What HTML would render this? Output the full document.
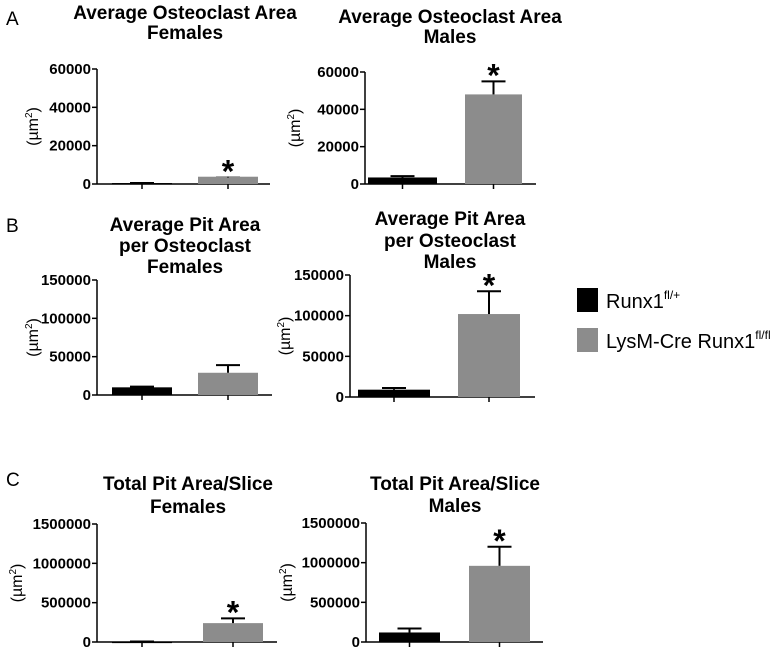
<!DOCTYPE html>
<html><head><meta charset="utf-8"><style>
body{margin:0;background:#fff;width:777px;height:650px;overflow:hidden}
svg text{font-family:"Liberation Sans",Arial,sans-serif}
</style></head><body>
<svg id="fig" width="777" height="650" xmlns="http://www.w3.org/2000/svg">
<text x="6" y="25" font-size="19">A</text>
<text x="6" y="232" font-size="19">B</text>
<text x="6" y="486" font-size="19">C</text>
<g>
<rect x="577" y="288" width="21" height="24" fill="#000"/>
<text x="606" y="308" font-size="20">Runx1<tspan font-size="12" dy="-9">fl/+</tspan></text>
<rect x="577" y="328" width="21" height="24" fill="#8c8c8c"/>
<text x="606" y="348" font-size="20">LysM-Cre Runx1<tspan font-size="12" dy="-9">fl/fl</tspan></text>
</g>
</svg>
<script>
const panelNames=["osteoclast-area-females","osteoclast-area-males","pit-area-females","pit-area-males","total-pit-females","total-pit-males"];
const groups=["Runx1 fl/+","LysM-Cre Runx1 fl/fl"];
const controlValues=[500,3500,10000,9000,5000,120000];
const controlErrors=[500,4200,11000,11000,6000,170000];
const ckoValues=[3800,48000,29000,102000,240000,960000];
const ckoErrors=[3400,55000,39000,130000,300000,1200000];
const yMax=[60000,60000,150000,150000,1500000,1500000];
const yTicks=[[0,20000,40000,60000],[0,20000,40000,60000],[0,50000,100000,150000],[0,50000,100000,150000],[0,500000,1000000,1500000],[0,500000,1000000,1500000]];
const significant=[true,true,false,true,true,true];
const titles=[["Average Osteoclast Area","Females"],["Average Osteoclast Area","Males"],["Average Pit Area","per Osteoclast","Females"],["Average Pit Area","per Osteoclast","Males"],["Total Pit Area/Slice","Females"],["Total Pit Area/Slice","Males"]];
// layout (not data)
const L=[
 {ax:97,x1:270,top:69,bot:184,b0:[112,172],b1:[198,258],tx:185,ty:[19,39],lx:38},
 {ax:365,x1:536,top:72,bot:184,b0:[368,437],b1:[465,522],tx:450,ty:[23,43],lx:300},
 {ax:97,x1:272,top:280,bot:395,b0:[112,172],b1:[198,258],tx:185,ty:[231,252,273],lx:38},
 {ax:350,x1:535,top:275,bot:397,b0:[358,430],b1:[458,520],tx:450,ty:[225,247,268],lx:290},
 {ax:97,x1:277,top:524,bot:642,b0:[112,172],b1:[203,263],tx:188,ty:[490,513],lx:22},
 {ax:366,x1:543,top:523,bot:642,b0:[379,440],b1:[469,530],tx:455,ty:[490,512],lx:292}];
const NS="http://www.w3.org/2000/svg",svg=document.getElementById('fig');
function mk(t,a,p){const e=document.createElementNS(NS,t);for(const k in a)e.setAttribute(k,a[k]);(p||svg).appendChild(e);return e;}
panelNames.forEach((nm,i)=>{
 const l=L[i];const y=v=>l.bot-(v/yMax[i])*(l.bot-l.top);
 const g=mk('g',{});
 
 
 titles[i].forEach((s,j)=>{const t=mk('text',{x:l.tx,y:l.ty[j],'font-size':19,'font-weight':'bold','text-anchor':'middle'},g);t.textContent=s;
  
  });
 const ya=mk('line',{x1:l.ax,x2:l.ax,y1:l.top,y2:l.bot,stroke:'#000','stroke-width':1.5},g);
 
 
 const xa=mk('line',{x1:l.ax,x2:l.x1,y1:l.bot,y2:l.bot,stroke:'#000','stroke-width':1.5},g);
 
 
 yTicks[i].forEach(v=>{mk('line',{x1:l.ax-5,x2:l.ax,y1:y(v),y2:y(v),stroke:'#000','stroke-width':1.5},g);
  const t=mk('text',{x:l.ax-6,y:y(v)+5,'font-size':15,'font-weight':'bold','text-anchor':'end'},g);t.textContent=v;
  
  });
 const yt=mk('text',{x:0,y:0,'font-size':16,'text-anchor':'middle',transform:`translate(${l.lx},${(l.top+l.bot)/2}) rotate(-90)`},g);
 yt.innerHTML='(µm<tspan font-size="10" dy="-6">2</tspan><tspan dy="6">)</tspan>';
 
 
 [[controlValues,controlErrors,l.b0,'#000','bar-control'],[ckoValues,ckoErrors,l.b1,'#8c8c8c','bar-cko']].forEach(([vals,errs,bx,col,n])=>{
  const cx=(bx[0]+bx[1])/2;
  mk('line',{x1:cx,x2:cx,y1:l.bot,y2:l.bot+5,stroke:'#000','stroke-width':1.5},g);
  const e=mk('line',{x1:cx,x2:cx,y1:y(vals[i]),y2:y(errs[i]),stroke:'#000','stroke-width':2},g);
  
  
  mk('line',{x1:cx-12,x2:cx+12,y1:y(errs[i]),y2:y(errs[i]),stroke:'#000','stroke-width':2},g);
  const r=mk('rect',{x:bx[0],y:y(vals[i]),width:bx[1]-bx[0],height:Math.max(1.5,l.bot-y(vals[i])),fill:col},g);
  
  
  if(n==='bar-cko'){g.appendChild(e);}
  if(n==='bar-cko'&&significant[i]){const s=mk('text',{x:cx,y:y(errs[i])+5,'font-size':32,'font-weight':'bold','text-anchor':'middle'},g);s.textContent='*';
   
   }
 });
});
</script>
</body></html>
